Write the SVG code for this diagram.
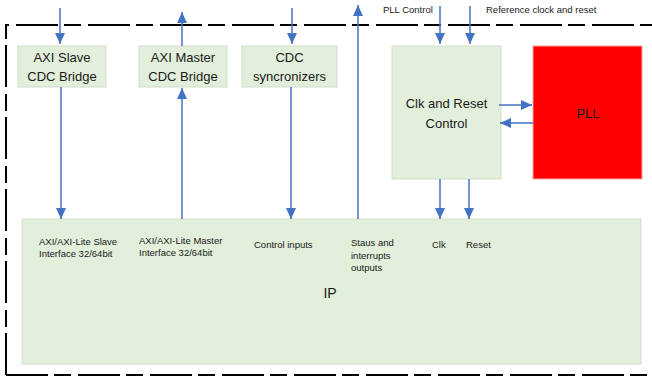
<svg xmlns="http://www.w3.org/2000/svg" width="652" height="379" viewBox="0 0 652 379">
<defs>
<marker id="ah" markerUnits="userSpaceOnUse" markerWidth="11" markerHeight="10" refX="11" refY="5" orient="auto">
<path d="M0,0 L11,5 L0,10 z" fill="#4472C4"/>
</marker>
<style>
.box{fill:#E2EFDA;stroke:#D3DDCC;stroke-width:1}
.pll{fill:#FF0000;stroke:#F4A6A6;stroke-width:1}
.lbl{font-family:"Liberation Sans",Arial,sans-serif;font-size:13px;fill:#1a1a1a;text-anchor:middle}
.sm{font-family:"Liberation Sans",Arial,sans-serif;font-size:9.5px;fill:#1a1a1a}
.con{stroke:#4472C4;stroke-width:1.5;fill:none}
</style>
</defs>
<rect width="652" height="379" fill="#ffffff"/>
<g id="border">
<path d="M6,375 L6,25 L660,25" fill="none" stroke="#000" stroke-width="2" stroke-dasharray="42 6 17 7"/>
<path d="M6,375 L660,375" fill="none" stroke="#000" stroke-width="2" stroke-dasharray="42 6 17 7"/>
</g>
<g id="ip">
<rect class="box" x="22" y="219" width="619" height="145"/>
<text class="lbl" x="330" y="298" style="font-size:14px">IP</text>
<text class="sm" x="39" y="245">AXI/AXI-Lite Slave</text>
<text class="sm" x="39" y="257">Interface 32/64bit</text>
<text class="sm" x="139" y="243.5">AXI/AXI-Lite Master</text>
<text class="sm" x="139" y="255.5">Interface 32/64bit</text>
<text class="sm" x="254" y="248">Control inputs</text>
<text class="sm" x="351" y="246">Staus and</text>
<text class="sm" x="351" y="258.5">interrupts</text>
<text class="sm" x="351" y="271">outputs</text>
<text class="sm" x="432" y="248">Clk</text>
<text class="sm" x="466" y="248">Reset</text>
</g>
<g id="axi_slave">
<rect class="box" x="18" y="46" width="88" height="41"/>
<text class="lbl" x="62" y="62">AXI Slave</text>
<text class="lbl" x="62" y="81">CDC Bridge</text>
</g>
<g id="axi_master">
<rect class="box" x="139" y="46" width="88" height="41"/>
<text class="lbl" x="183" y="62">AXI Master</text>
<text class="lbl" x="183" y="81">CDC Bridge</text>
</g>
<g id="cdc_sync">
<rect class="box" x="242" y="46" width="95" height="41"/>
<text class="lbl" x="289.5" y="62">CDC</text>
<text class="lbl" x="289.5" y="81">syncronizers</text>
</g>
<g id="clk_reset">
<rect class="box" x="392" y="46" width="109" height="133"/>
<text class="lbl" x="446.5" y="108">Clk and Reset</text>
<text class="lbl" x="446.5" y="128">Control</text>
</g>
<g id="pll">
<rect class="pll" x="533" y="46" width="109" height="133"/>
<text class="lbl" x="588" y="118">PLL</text>
</g>
<g id="top_labels">
<text class="sm" x="383" y="13">PLL Control</text>
<text class="sm" x="486" y="13">Reference clock and reset</text>
</g>
<g id="connectors">
<line class="con" x1="60" y1="8" x2="60" y2="44" marker-end="url(#ah)"/>
<line class="con" x1="61" y1="87" x2="61" y2="219" marker-end="url(#ah)"/>
<line class="con" x1="182" y1="46" x2="182" y2="12" marker-end="url(#ah)"/>
<line class="con" x1="182" y1="219" x2="182" y2="88" marker-end="url(#ah)"/>
<line class="con" x1="292" y1="8" x2="292" y2="44" marker-end="url(#ah)"/>
<line class="con" x1="291" y1="87" x2="291" y2="219" marker-end="url(#ah)"/>
<line class="con" x1="358" y1="219" x2="358" y2="5" marker-end="url(#ah)"/>
<line class="con" x1="440" y1="6" x2="440" y2="44" marker-end="url(#ah)"/>
<line class="con" x1="470" y1="6" x2="470" y2="44" marker-end="url(#ah)"/>
<line class="con" x1="440" y1="179" x2="440" y2="219" marker-end="url(#ah)"/>
<line class="con" x1="469" y1="179" x2="469" y2="219" marker-end="url(#ah)"/>
<line class="con" x1="499" y1="105" x2="532" y2="105" marker-end="url(#ah)"/>
<line class="con" x1="533" y1="123" x2="500" y2="123" marker-end="url(#ah)"/>
</g>
</svg>
